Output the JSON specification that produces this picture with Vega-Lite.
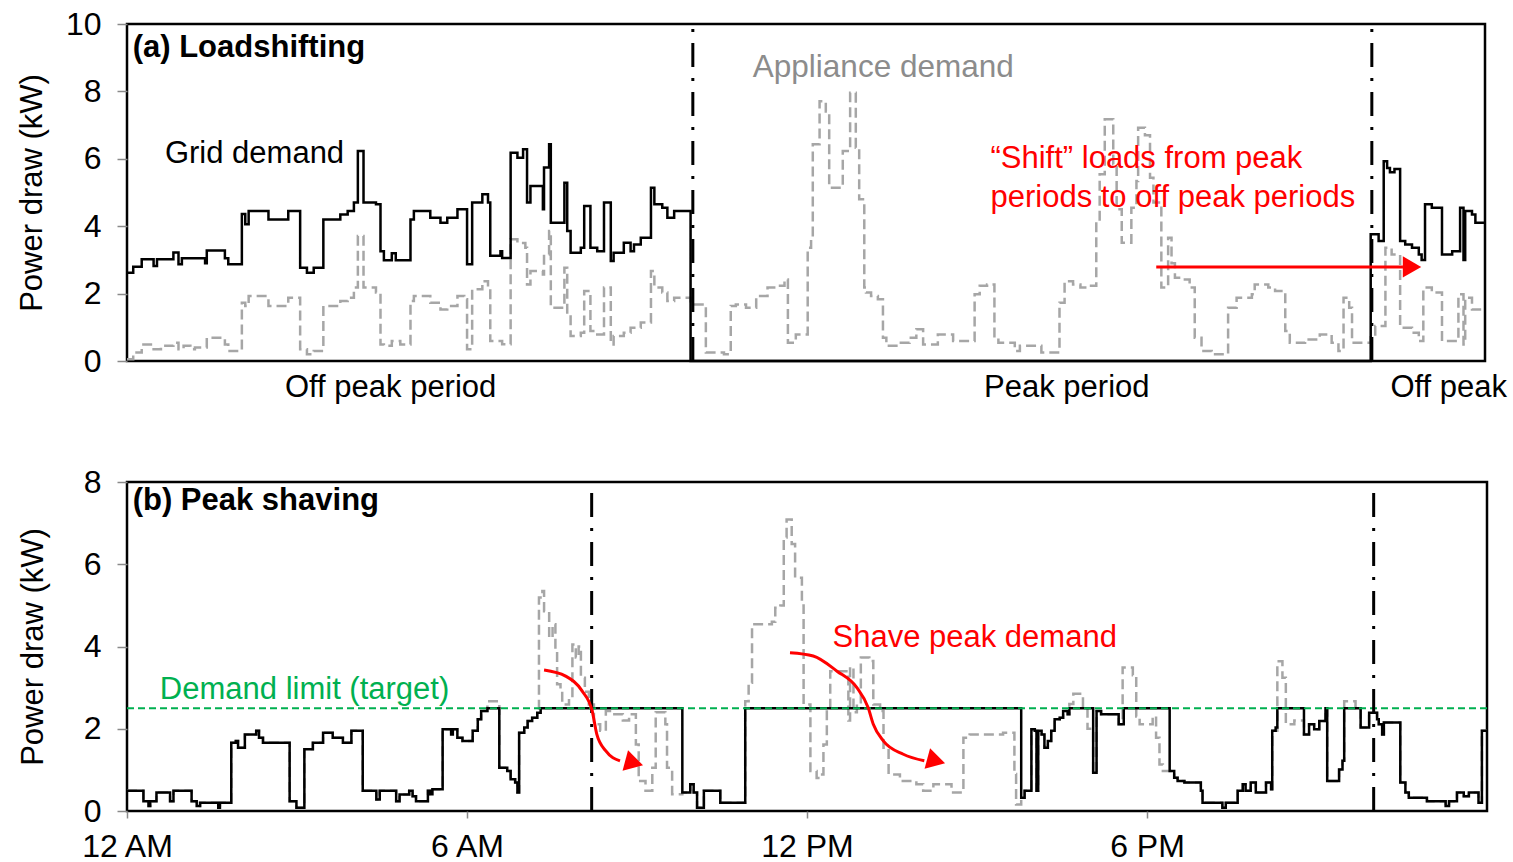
{
  "$schema": "https://vega.github.io/schema/vega-lite/v6.json",
  "background": "white",
  "padding": {"left": 15, "top": 6, "right": 5, "bottom": 0},
  "config": {
    "font": "Liberation Sans",
    "view": {"stroke": "black", "strokeWidth": 2.5},
    "axis": {"labelFontSize": 32, "labelColor": "black", "titleFontSize": 31, "titleFontWeight": "normal", "titleColor": "black", "grid": false, "domain": false, "tickColor": "#8a8a8a", "tickWidth": 1.5, "tickSize": 10, "labelPadding": 16, "labelLimit": 500}
  },
  "spacing": 60,
  "datasets": {
    "gridA": [
      {"h":0,"kW":2.62},{"h":0.11,"kW":2.8},{"h":0.26,"kW":3.02},{"h":0.47,"kW":2.82},{"h":0.53,"kW":3.02},{"h":0.82,"kW":3.22},{"h":0.91,"kW":2.87},{"h":0.97,"kW":3.05},{"h":1.38,"kW":2.9},{"h":1.41,"kW":3.28},{"h":1.73,"kW":3.05},{"h":1.79,"kW":2.87},{"h":2.03,"kW":4.36},{"h":2.09,"kW":4.06},{"h":2.15,"kW":4.45},{"h":2.5,"kW":4.2},{"h":2.85,"kW":4.45},{"h":3.06,"kW":2.77},{"h":3.18,"kW":2.62},{"h":3.3,"kW":2.77},{"h":3.47,"kW":4.2},{"h":3.77,"kW":4.35},{"h":3.9,"kW":4.45},{"h":4.01,"kW":4.7},{"h":4.08,"kW":6.23},{"h":4.18,"kW":4.7},{"h":4.4,"kW":4.65},{"h":4.48,"kW":3.26},{"h":4.54,"kW":2.99},{"h":4.68,"kW":3.2},{"h":4.75,"kW":2.99},{"h":5.01,"kW":4.2},{"h":5.07,"kW":4.45},{"h":5.36,"kW":4.25},{"h":5.54,"kW":4.1},{"h":5.66,"kW":4.25},{"h":5.84,"kW":4.5},{"h":6.01,"kW":2.87},{"h":6.1,"kW":4.7},{"h":6.28,"kW":4.95},{"h":6.38,"kW":4.7},{"h":6.42,"kW":3.12},{"h":6.6,"kW":3.26},{"h":6.63,"kW":3.06},{"h":6.78,"kW":6.18},{"h":6.9,"kW":6.03},{"h":7.0,"kW":6.28},{"h":7.07,"kW":4.7},{"h":7.13,"kW":5.19},{"h":7.35,"kW":4.5},{"h":7.37,"kW":5.74},{"h":7.46,"kW":6.43},{"h":7.49,"kW":4.1},{"h":7.73,"kW":5.29},{"h":7.78,"kW":3.86},{"h":7.84,"kW":3.21},{"h":8.02,"kW":3.36},{"h":8.08,"kW":4.6},{"h":8.19,"kW":3.36},{"h":8.31,"kW":3.26},{"h":8.43,"kW":4.7},{"h":8.55,"kW":2.97},{"h":8.6,"kW":3.21},{"h":8.78,"kW":3.51},{"h":8.9,"kW":3.26},{"h":8.96,"kW":3.46},{"h":9.08,"kW":3.66},{"h":9.26,"kW":5.14},{"h":9.32,"kW":4.65},{"h":9.46,"kW":4.55},{"h":9.55,"kW":4.25},{"h":9.67,"kW":4.45},{"h":9.96,"kW":0},{"h":21.98,"kW":3.76},{"h":22.12,"kW":3.56},{"h":22.21,"kW":5.93},{"h":22.27,"kW":5.73},{"h":22.32,"kW":5.6},{"h":22.4,"kW":5.7},{"h":22.5,"kW":3.56},{"h":22.59,"kW":3.46},{"h":22.71,"kW":3.36},{"h":22.83,"kW":3.16},{"h":22.88,"kW":3.0},{"h":22.94,"kW":4.65},{"h":23.06,"kW":4.55},{"h":23.24,"kW":3.16},{"h":23.42,"kW":3.26},{"h":23.56,"kW":4.55},{"h":23.62,"kW":3.0},{"h":23.65,"kW":4.45},{"h":23.77,"kW":4.35},{"h":23.83,"kW":4.1},{"h":24,"kW":4.1}
    ],
    "appA": [
      {"h":0,"kW":0.05},{"h":0.11,"kW":0.25},{"h":0.26,"kW":0.49},{"h":0.47,"kW":0.35},{"h":0.6,"kW":0.45},{"h":0.82,"kW":0.54},{"h":0.91,"kW":0.35},{"h":1.0,"kW":0.45},{"h":1.12,"kW":0.35},{"h":1.2,"kW":0.4},{"h":1.41,"kW":0.69},{"h":1.73,"kW":0.49},{"h":1.79,"kW":0.3},{"h":2.03,"kW":1.73},{"h":2.09,"kW":1.63},{"h":2.15,"kW":1.93},{"h":2.5,"kW":1.63},{"h":2.85,"kW":1.88},{"h":3.06,"kW":0.35},{"h":3.18,"kW":0.2},{"h":3.3,"kW":0.3},{"h":3.47,"kW":1.63},{"h":3.77,"kW":1.78},{"h":3.9,"kW":1.88},{"h":4.01,"kW":2.18},{"h":4.08,"kW":3.71},{"h":4.18,"kW":2.18},{"h":4.4,"kW":2.03},{"h":4.48,"kW":0.49},{"h":4.54,"kW":0.45},{"h":4.68,"kW":0.59},{"h":4.83,"kW":0.49},{"h":5.01,"kW":1.78},{"h":5.07,"kW":1.93},{"h":5.36,"kW":1.73},{"h":5.54,"kW":1.53},{"h":5.66,"kW":1.63},{"h":5.84,"kW":1.93},{"h":5.96,"kW":1.83},{"h":6.01,"kW":0.35},{"h":6.1,"kW":2.13},{"h":6.28,"kW":2.37},{"h":6.38,"kW":2.13},{"h":6.42,"kW":0.59},{"h":6.63,"kW":0.5},{"h":6.78,"kW":3.61},{"h":6.9,"kW":3.5},{"h":7.04,"kW":3.36},{"h":7.07,"kW":2.27},{"h":7.13,"kW":2.67},{"h":7.35,"kW":2.57},{"h":7.37,"kW":3.16},{"h":7.46,"kW":3.86},{"h":7.49,"kW":1.58},{"h":7.73,"kW":2.77},{"h":7.78,"kW":1.38},{"h":7.84,"kW":0.74},{"h":8.02,"kW":0.84},{"h":8.08,"kW":2.08},{"h":8.19,"kW":0.89},{"h":8.31,"kW":0.79},{"h":8.43,"kW":2.18},{"h":8.55,"kW":0.49},{"h":8.6,"kW":0.74},{"h":8.78,"kW":0.84},{"h":8.9,"kW":0.99},{"h":9.08,"kW":1.14},{"h":9.26,"kW":2.67},{"h":9.32,"kW":2.18},{"h":9.46,"kW":2.03},{"h":9.55,"kW":1.78},{"h":9.67,"kW":1.88},{"h":9.96,"kW":1.68},{"h":10.23,"kW":0.25},{"h":10.55,"kW":0.2},{"h":10.67,"kW":1.63},{"h":10.76,"kW":1.68},{"h":10.94,"kW":1.58},{"h":11.12,"kW":1.93},{"h":11.32,"kW":2.18},{"h":11.47,"kW":2.23},{"h":11.62,"kW":2.42},{"h":11.68,"kW":0.54},{"h":11.82,"kW":0.79},{"h":12.03,"kW":3.36},{"h":12.09,"kW":3.66},{"h":12.12,"kW":6.43},{"h":12.24,"kW":7.71},{"h":12.35,"kW":7.4},{"h":12.41,"kW":5.14},{"h":12.65,"kW":6.23},{"h":12.78,"kW":7.96},{"h":12.88,"kW":6.33},{"h":12.94,"kW":4.8},{"h":13.03,"kW":2.18},{"h":13.06,"kW":2.03},{"h":13.15,"kW":1.93},{"h":13.27,"kW":1.83},{"h":13.36,"kW":0.69},{"h":13.42,"kW":0.45},{"h":13.62,"kW":0.54},{"h":13.83,"kW":0.69},{"h":13.95,"kW":0.94},{"h":14.07,"kW":0.49},{"h":14.33,"kW":0.79},{"h":14.6,"kW":0.59},{"h":14.98,"kW":1.98},{"h":15.07,"kW":2.23},{"h":15.2,"kW":2.27},{"h":15.33,"kW":0.69},{"h":15.4,"kW":0.54},{"h":15.69,"kW":0.3},{"h":15.78,"kW":0.45},{"h":16.16,"kW":0.25},{"h":16.48,"kW":1.73},{"h":16.57,"kW":2.37},{"h":16.72,"kW":2.27},{"h":16.85,"kW":2.18},{"h":16.99,"kW":2.23},{"h":17.13,"kW":4.15},{"h":17.19,"kW":5.54},{"h":17.28,"kW":7.17},{"h":17.43,"kW":5.84},{"h":17.49,"kW":4.5},{"h":17.58,"kW":3.51},{"h":17.75,"kW":4.55},{"h":17.84,"kW":5.34},{"h":17.87,"kW":6.92},{"h":17.99,"kW":6.7},{"h":18.08,"kW":5.44},{"h":18.14,"kW":4.7},{"h":18.28,"kW":2.18},{"h":18.4,"kW":3.66},{"h":18.46,"kW":2.9},{"h":18.52,"kW":2.47},{"h":18.64,"kW":2.42},{"h":18.78,"kW":2.18},{"h":18.87,"kW":0.69},{"h":18.99,"kW":0.3},{"h":19.17,"kW":0.2},{"h":19.46,"kW":1.58},{"h":19.61,"kW":1.88},{"h":19.88,"kW":1.98},{"h":19.93,"kW":2.27},{"h":20.17,"kW":2.18},{"h":20.29,"kW":2.08},{"h":20.47,"kW":0.89},{"h":20.55,"kW":0.54},{"h":20.82,"kW":0.64},{"h":21.08,"kW":0.79},{"h":21.29,"kW":0.54},{"h":21.41,"kW":0.3},{"h":21.5,"kW":1.88},{"h":21.6,"kW":1.58},{"h":21.65,"kW":0.54},{"h":21.98,"kW":0.79},{"h":22.06,"kW":1.04},{"h":22.24,"kW":3.36},{"h":22.35,"kW":3.16},{"h":22.5,"kW":0.99},{"h":22.71,"kW":0.84},{"h":22.83,"kW":0.59},{"h":22.91,"kW":2.18},{"h":23.06,"kW":2.03},{"h":23.24,"kW":0.59},{"h":23.53,"kW":1.98},{"h":23.62,"kW":0.49},{"h":23.65,"kW":1.88},{"h":23.77,"kW":1.53},{"h":24,"kW":1.53}
    ],
    "gridB": [
      {"h":0,"kW":0.49},{"h":0.29,"kW":0.24},{"h":0.38,"kW":0.12},{"h":0.41,"kW":0.24},{"h":0.52,"kW":0.45},{"h":0.76,"kW":0.24},{"h":0.82,"kW":0.49},{"h":1.14,"kW":0.24},{"h":1.23,"kW":0.12},{"h":1.29,"kW":0.2},{"h":1.61,"kW":0.08},{"h":1.64,"kW":0.2},{"h":1.84,"kW":1.66},{"h":1.92,"kW":1.7},{"h":1.96,"kW":1.54},{"h":2.08,"kW":1.86},{"h":2.28,"kW":1.95},{"h":2.33,"kW":1.78},{"h":2.4,"kW":1.66},{"h":2.87,"kW":0.24},{"h":2.99,"kW":0.08},{"h":3.13,"kW":1.5},{"h":3.28,"kW":1.66},{"h":3.46,"kW":1.9},{"h":3.63,"kW":1.78},{"h":3.81,"kW":1.66},{"h":3.96,"kW":1.95},{"h":4.16,"kW":0.49},{"h":4.4,"kW":0.28},{"h":4.46,"kW":0.49},{"h":4.75,"kW":0.24},{"h":4.81,"kW":0.4},{"h":4.98,"kW":0.49},{"h":5.04,"kW":0.36},{"h":5.1,"kW":0.24},{"h":5.31,"kW":0.49},{"h":5.35,"kW":0.41},{"h":5.39,"kW":0.53},{"h":5.57,"kW":1.99},{"h":5.72,"kW":1.86},{"h":5.75,"kW":1.99},{"h":5.83,"kW":1.78},{"h":5.92,"kW":1.7},{"h":6.1,"kW":1.95},{"h":6.19,"kW":2.23},{"h":6.25,"kW":2.43},{"h":6.36,"kW":2.5},{"h":6.57,"kW":1.05},{"h":6.71,"kW":0.97},{"h":6.77,"kW":0.77},{"h":6.85,"kW":0.69},{"h":6.89,"kW":0.45},{"h":6.92,"kW":1.9},{"h":7.01,"kW":2.03},{"h":7.07,"kW":2.19},{"h":7.15,"kW":2.27},{"h":7.24,"kW":2.39},{"h":7.3,"kW":2.5},{"h":9.8,"kW":0.45},{"h":9.94,"kW":0.65},{"h":10.0,"kW":0.45},{"h":10.06,"kW":0.08},{"h":10.18,"kW":0.49},{"h":10.47,"kW":0.2},{"h":10.91,"kW":2.5},{"h":15.78,"kW":0.32},{"h":15.84,"kW":0.49},{"h":15.96,"kW":1.99},{"h":16.02,"kW":1.95},{"h":16.05,"kW":0.49},{"h":16.08,"kW":1.95},{"h":16.14,"kW":1.86},{"h":16.19,"kW":1.54},{"h":16.25,"kW":1.7},{"h":16.31,"kW":1.95},{"h":16.37,"kW":2.23},{"h":16.46,"kW":2.27},{"h":16.52,"kW":2.43},{"h":16.6,"kW":2.35},{"h":16.63,"kW":2.5},{"h":17.05,"kW":0.93},{"h":17.11,"kW":2.43},{"h":17.19,"kW":2.35},{"h":17.5,"kW":2.11},{"h":17.59,"kW":2.5},{"h":18.4,"kW":0.97},{"h":18.48,"kW":0.81},{"h":18.54,"kW":0.73},{"h":18.66,"kW":0.69},{"h":18.95,"kW":0.49},{"h":18.98,"kW":0.2},{"h":19.33,"kW":0.08},{"h":19.39,"kW":0.2},{"h":19.6,"kW":0.49},{"h":19.69,"kW":0.65},{"h":19.74,"kW":0.49},{"h":19.83,"kW":0.69},{"h":19.92,"kW":0.45},{"h":20.1,"kW":0.69},{"h":20.19,"kW":0.53},{"h":20.21,"kW":1.95},{"h":20.27,"kW":2.03},{"h":20.3,"kW":2.5},{"h":20.77,"kW":1.86},{"h":20.86,"kW":2.11},{"h":20.95,"kW":1.99},{"h":21.04,"kW":2.19},{"h":21.15,"kW":2.5},{"h":21.18,"kW":0.73},{"h":21.39,"kW":1.01},{"h":21.45,"kW":1.22},{"h":21.48,"kW":2.5},{"h":21.77,"kW":2.03},{"h":21.92,"kW":2.39},{"h":22.06,"kW":2.23},{"h":22.09,"kW":2.11},{"h":22.15,"kW":1.86},{"h":22.18,"kW":2.15},{"h":22.47,"kW":0.69},{"h":22.56,"kW":0.45},{"h":22.62,"kW":0.32},{"h":22.94,"kW":0.24},{"h":23.27,"kW":0.12},{"h":23.33,"kW":0.24},{"h":23.47,"kW":0.45},{"h":23.59,"kW":0.36},{"h":23.68,"kW":0.45},{"h":23.85,"kW":0.2},{"h":23.91,"kW":1.95},{"h":24,"kW":1.95}
    ],
    "appB": [
      {"h":0,"kW":0.49},{"h":0.29,"kW":0.24},{"h":0.38,"kW":0.12},{"h":0.41,"kW":0.24},{"h":0.52,"kW":0.45},{"h":0.76,"kW":0.24},{"h":0.82,"kW":0.49},{"h":1.14,"kW":0.24},{"h":1.23,"kW":0.12},{"h":1.29,"kW":0.2},{"h":1.61,"kW":0.08},{"h":1.64,"kW":0.2},{"h":1.84,"kW":1.66},{"h":1.92,"kW":1.7},{"h":1.96,"kW":1.54},{"h":2.08,"kW":1.86},{"h":2.28,"kW":1.95},{"h":2.33,"kW":1.78},{"h":2.4,"kW":1.66},{"h":2.87,"kW":0.24},{"h":2.99,"kW":0.08},{"h":3.13,"kW":1.5},{"h":3.28,"kW":1.66},{"h":3.46,"kW":1.9},{"h":3.63,"kW":1.78},{"h":3.81,"kW":1.66},{"h":3.96,"kW":1.95},{"h":4.16,"kW":0.49},{"h":4.4,"kW":0.28},{"h":4.46,"kW":0.49},{"h":4.75,"kW":0.24},{"h":4.81,"kW":0.4},{"h":4.98,"kW":0.49},{"h":5.04,"kW":0.36},{"h":5.1,"kW":0.24},{"h":5.31,"kW":0.49},{"h":5.35,"kW":0.41},{"h":5.39,"kW":0.53},{"h":5.57,"kW":1.99},{"h":5.72,"kW":1.86},{"h":5.75,"kW":1.99},{"h":5.83,"kW":1.78},{"h":5.92,"kW":1.7},{"h":6.1,"kW":1.95},{"h":6.19,"kW":2.23},{"h":6.25,"kW":2.43},{"h":6.36,"kW":2.67},{"h":6.57,"kW":1.05},{"h":6.71,"kW":0.97},{"h":6.77,"kW":0.77},{"h":6.85,"kW":0.69},{"h":6.89,"kW":0.45},{"h":6.92,"kW":1.9},{"h":7.01,"kW":2.03},{"h":7.07,"kW":2.19},{"h":7.15,"kW":2.27},{"h":7.24,"kW":2.39},{"h":7.27,"kW":5.19},{"h":7.33,"kW":5.35},{"h":7.36,"kW":4.86},{"h":7.45,"kW":4.21},{"h":7.51,"kW":4.54},{"h":7.56,"kW":3.9},{"h":7.59,"kW":3.08},{"h":7.65,"kW":2.92},{"h":7.68,"kW":2.59},{"h":7.8,"kW":2.75},{"h":7.86,"kW":4.05},{"h":7.92,"kW":3.73},{"h":7.97,"kW":4.0},{"h":8.01,"kW":3.24},{"h":8.08,"kW":2.9},{"h":8.15,"kW":2.59},{"h":8.24,"kW":2.11},{"h":8.35,"kW":1.95},{"h":8.45,"kW":2.43},{"h":8.6,"kW":2.35},{"h":8.75,"kW":2.2},{"h":8.86,"kW":2.35},{"h":8.98,"kW":1.62},{"h":9.03,"kW":0.73},{"h":9.15,"kW":0.49},{"h":9.27,"kW":1.05},{"h":9.33,"kW":2.4},{"h":9.5,"kW":2.11},{"h":9.53,"kW":1.05},{"h":9.62,"kW":0.41},{"h":9.8,"kW":0.45},{"h":9.94,"kW":0.65},{"h":10.0,"kW":0.45},{"h":10.06,"kW":0.08},{"h":10.18,"kW":0.49},{"h":10.47,"kW":0.2},{"h":10.91,"kW":2.67},{"h":10.97,"kW":3.12},{"h":11.03,"kW":4.54},{"h":11.38,"kW":4.6},{"h":11.44,"kW":4.94},{"h":11.53,"kW":5.0},{"h":11.59,"kW":6.65},{"h":11.64,"kW":7.09},{"h":11.73,"kW":6.49},{"h":11.79,"kW":5.67},{"h":11.91,"kW":5.0},{"h":11.94,"kW":2.59},{"h":12.06,"kW":0.97},{"h":12.17,"kW":0.8},{"h":12.23,"kW":0.89},{"h":12.29,"kW":1.62},{"h":12.35,"kW":2.5},{"h":12.41,"kW":3.4},{"h":12.73,"kW":2.2},{"h":12.76,"kW":3.5},{"h":12.82,"kW":2.4},{"h":12.88,"kW":2.59},{"h":12.95,"kW":3.73},{"h":13.1,"kW":3.65},{"h":13.17,"kW":2.59},{"h":13.29,"kW":2.43},{"h":13.35,"kW":1.54},{"h":13.44,"kW":0.89},{"h":13.64,"kW":0.73},{"h":13.93,"kW":0.65},{"h":14.05,"kW":0.49},{"h":14.23,"kW":0.65},{"h":14.55,"kW":0.45},{"h":14.76,"kW":1.78},{"h":14.87,"kW":1.86},{"h":15.46,"kW":1.9},{"h":15.66,"kW":0.9},{"h":15.69,"kW":0.16},{"h":15.78,"kW":0.32},{"h":15.84,"kW":0.49},{"h":15.96,"kW":1.99},{"h":16.02,"kW":1.95},{"h":16.05,"kW":0.49},{"h":16.08,"kW":1.95},{"h":16.14,"kW":1.86},{"h":16.19,"kW":1.54},{"h":16.25,"kW":1.7},{"h":16.31,"kW":1.95},{"h":16.37,"kW":2.23},{"h":16.46,"kW":2.27},{"h":16.52,"kW":2.43},{"h":16.6,"kW":2.35},{"h":16.63,"kW":2.6},{"h":16.7,"kW":2.85},{"h":16.87,"kW":2.5},{"h":16.95,"kW":2.0},{"h":17.05,"kW":0.93},{"h":17.11,"kW":2.43},{"h":17.19,"kW":2.35},{"h":17.5,"kW":2.11},{"h":17.57,"kW":3.49},{"h":17.75,"kW":3.3},{"h":17.81,"kW":2.3},{"h":17.87,"kW":2.11},{"h":18.1,"kW":2.3},{"h":18.16,"kW":1.78},{"h":18.22,"kW":1.13},{"h":18.28,"kW":0.97},{"h":18.48,"kW":0.81},{"h":18.54,"kW":0.73},{"h":18.66,"kW":0.69},{"h":18.95,"kW":0.49},{"h":18.98,"kW":0.2},{"h":19.33,"kW":0.08},{"h":19.39,"kW":0.2},{"h":19.6,"kW":0.49},{"h":19.69,"kW":0.65},{"h":19.74,"kW":0.49},{"h":19.83,"kW":0.69},{"h":19.92,"kW":0.45},{"h":20.1,"kW":0.69},{"h":20.19,"kW":0.53},{"h":20.21,"kW":1.95},{"h":20.3,"kW":3.64},{"h":20.39,"kW":3.24},{"h":20.45,"kW":2.11},{"h":20.6,"kW":2.2},{"h":20.77,"kW":1.86},{"h":20.86,"kW":2.11},{"h":20.95,"kW":1.99},{"h":21.04,"kW":2.19},{"h":21.15,"kW":2.5},{"h":21.18,"kW":0.73},{"h":21.39,"kW":1.01},{"h":21.45,"kW":1.22},{"h":21.48,"kW":2.67},{"h":21.68,"kW":2.5},{"h":21.77,"kW":2.03},{"h":21.92,"kW":2.39},{"h":22.06,"kW":2.23},{"h":22.09,"kW":2.11},{"h":22.15,"kW":1.86},{"h":22.18,"kW":2.15},{"h":22.47,"kW":0.69},{"h":22.56,"kW":0.45},{"h":22.62,"kW":0.32},{"h":22.94,"kW":0.24},{"h":23.27,"kW":0.12},{"h":23.33,"kW":0.24},{"h":23.47,"kW":0.45},{"h":23.59,"kW":0.36},{"h":23.68,"kW":0.45},{"h":23.85,"kW":0.2},{"h":23.91,"kW":1.95},{"h":24,"kW":1.95}
    ]
  },
  "vconcat": [
    {
      "width": 1358,
      "height": 337,
      "encoding": {
        "x": {"field": "h", "type": "quantitative", "scale": {"domain": [0, 24], "nice": false, "zero": false},
              "axis": {"values": [4.65, 16.6, 23.35], "labelExpr": "datum.value < 10 ? 'Off peak period' : datum.value < 20 ? 'Peak period' : 'Off peak'", "ticks": false, "title": null, "labelPadding": 11, "labelFontSize": 31, "labelOverlap": false, "labelFlush": false, "labelBound": false}},
        "y": {"field": "kW", "type": "quantitative", "scale": {"domain": [0, 10], "nice": false},
              "axis": {"values": [0, 2, 4, 6, 8, 10], "title": "Power draw (kW)", "titlePadding": 17}}
      },
      "layer": [
        {"data": {"name": "appA"}, "mark": {"type": "line", "interpolate": "step-after", "color": "#a6a6a6", "strokeWidth": 2.5, "strokeDash": [10, 5]}},
        {"data": {"name": "gridA"}, "mark": {"type": "line", "interpolate": "step-after", "color": "black", "strokeWidth": 2.5}},
        {"data": {"values": [{"h": 10, "kW": 0, "kW2": 10}, {"h": 22, "kW": 0, "kW2": 10}]},
         "mark": {"type": "rule", "color": "black", "strokeWidth": 3, "strokeDash": [24, 11, 3, 11]},
         "encoding": {"y2": {"field": "kW2"}}},
        {"data": {"values": [{"h": 18.19, "h2": 22.55, "kW": 2.79}]},
         "mark": {"type": "rule", "color": "#ff0000", "strokeWidth": 3},
         "encoding": {"x2": {"field": "h2"}}},
        {"data": {"values": [{"h": 22.71, "kW": 2.79}]},
         "mark": {"type": "point", "shape": "triangle-right", "filled": true, "color": "#ff0000", "size": 450, "opacity": 1}},
        {"data": {"values": [{"h": 0.1, "kW": 9.29, "t": "(a) Loadshifting"}]},
         "mark": {"type": "text", "align": "left", "baseline": "middle", "fontSize": 31, "fontWeight": "bold", "color": "black"},
         "encoding": {"text": {"field": "t"}}},
        {"data": {"values": [{"h": 0.67, "kW": 6.14, "t": "Grid demand"}]},
         "mark": {"type": "text", "align": "left", "baseline": "middle", "fontSize": 31, "color": "black"},
         "encoding": {"text": {"field": "t"}}},
        {"data": {"values": [{"h": 11.06, "kW": 8.69, "t": "Appliance demand"}]},
         "mark": {"type": "text", "align": "left", "baseline": "middle", "fontSize": 31.5, "color": "#8c8c8c"},
         "encoding": {"text": {"field": "t"}}},
        {"data": {"values": [{"h": 15.26, "kW": 5.99, "t": "“Shift” loads from peak"}, {"h": 15.26, "kW": 4.84, "t": "periods to off peak periods"}]},
         "mark": {"type": "text", "align": "left", "baseline": "middle", "fontSize": 31, "color": "#ff0000"},
         "encoding": {"text": {"field": "t"}}}
      ]
    },
    {
      "width": 1360,
      "height": 329,
      "encoding": {
        "x": {"field": "h", "type": "quantitative", "scale": {"domain": [0, 24], "nice": false, "zero": false},
              "axis": {"values": [0, 6, 12, 18], "labelExpr": "datum.value == 0 ? '12 AM' : datum.value == 6 ? '6 AM' : datum.value == 12 ? '12 PM' : '6 PM'", "title": null, "tickSize": 7, "labelPadding": 13, "labelOverlap": false, "labelFlush": false, "labelBound": false}},
        "y": {"field": "kW", "type": "quantitative", "scale": {"domain": [0, 8], "nice": false},
              "axis": {"values": [0, 2, 4, 6, 8], "title": "Power draw (kW)", "titlePadding": 34}}
      },
      "layer": [
        {"data": {"name": "appB"}, "mark": {"type": "line", "interpolate": "step-after", "color": "#a6a6a6", "strokeWidth": 2.5, "strokeDash": [10, 5]}},
        {"data": {"name": "gridB"}, "mark": {"type": "line", "interpolate": "step-after", "color": "black", "strokeWidth": 2.5}},
        {"data": {"values": [{"h": 0, "h2": 24, "kW": 2.5}]},
         "mark": {"type": "rule", "color": "#00b050", "strokeWidth": 2, "strokeDash": [7, 4]},
         "encoding": {"x2": {"field": "h2"}}},
        {"data": {"values": [{"h": 8.2, "kW": 0, "kW2": 8}, {"h": 22, "kW": 0, "kW2": 8}]},
         "mark": {"type": "rule", "color": "black", "strokeWidth": 3, "strokeDash": [24, 11, 3, 11]},
         "encoding": {"y2": {"field": "kW2"}}},
        {"data": {"values": [
          {"a": 1, "h": 7.36, "kW": 3.43}, {"a": 1, "h": 7.74, "kW": 3.28}, {"a": 1, "h": 8.03, "kW": 2.92}, {"a": 1, "h": 8.21, "kW": 2.43}, {"a": 1, "h": 8.29, "kW": 1.87}, {"a": 1, "h": 8.45, "kW": 1.46}, {"a": 1, "h": 8.7, "kW": 1.22},
          {"a": 2, "h": 11.7, "kW": 3.85}, {"a": 2, "h": 12.11, "kW": 3.77}, {"a": 2, "h": 12.53, "kW": 3.4}, {"a": 2, "h": 12.88, "kW": 3.0}, {"a": 2, "h": 13.08, "kW": 2.51}, {"a": 2, "h": 13.17, "kW": 2.11}, {"a": 2, "h": 13.35, "kW": 1.7}, {"a": 2, "h": 13.7, "kW": 1.38}, {"a": 2, "h": 14.07, "kW": 1.22}
        ]},
         "mark": {"type": "line", "interpolate": "monotone", "color": "#ff0000", "strokeWidth": 3},
         "encoding": {"detail": {"field": "a", "type": "nominal"}}},
        {"data": {"values": [{"h": 8.95, "kW": 1.17}, {"h": 14.28, "kW": 1.22}]},
         "mark": {"type": "point", "shape": "triangle-right", "filled": true, "color": "#ff0000", "size": 450, "angle": 15, "opacity": 1}},
        {"data": {"values": [{"h": 0.1, "kW": 7.54, "t": "(b) Peak shaving"}]},
         "mark": {"type": "text", "align": "left", "baseline": "middle", "fontSize": 31, "fontWeight": "bold", "color": "black"},
         "encoding": {"text": {"field": "t"}}},
        {"data": {"values": [{"h": 0.58, "kW": 2.94, "t": "Demand limit (target)"}]},
         "mark": {"type": "text", "align": "left", "baseline": "middle", "fontSize": 31, "color": "#00b050"},
         "encoding": {"text": {"field": "t"}}},
        {"data": {"values": [{"h": 12.45, "kW": 4.21, "t": "Shave peak demand"}]},
         "mark": {"type": "text", "align": "left", "baseline": "middle", "fontSize": 31, "color": "#ff0000"},
         "encoding": {"text": {"field": "t"}}}
      ]
    }
  ]
}
